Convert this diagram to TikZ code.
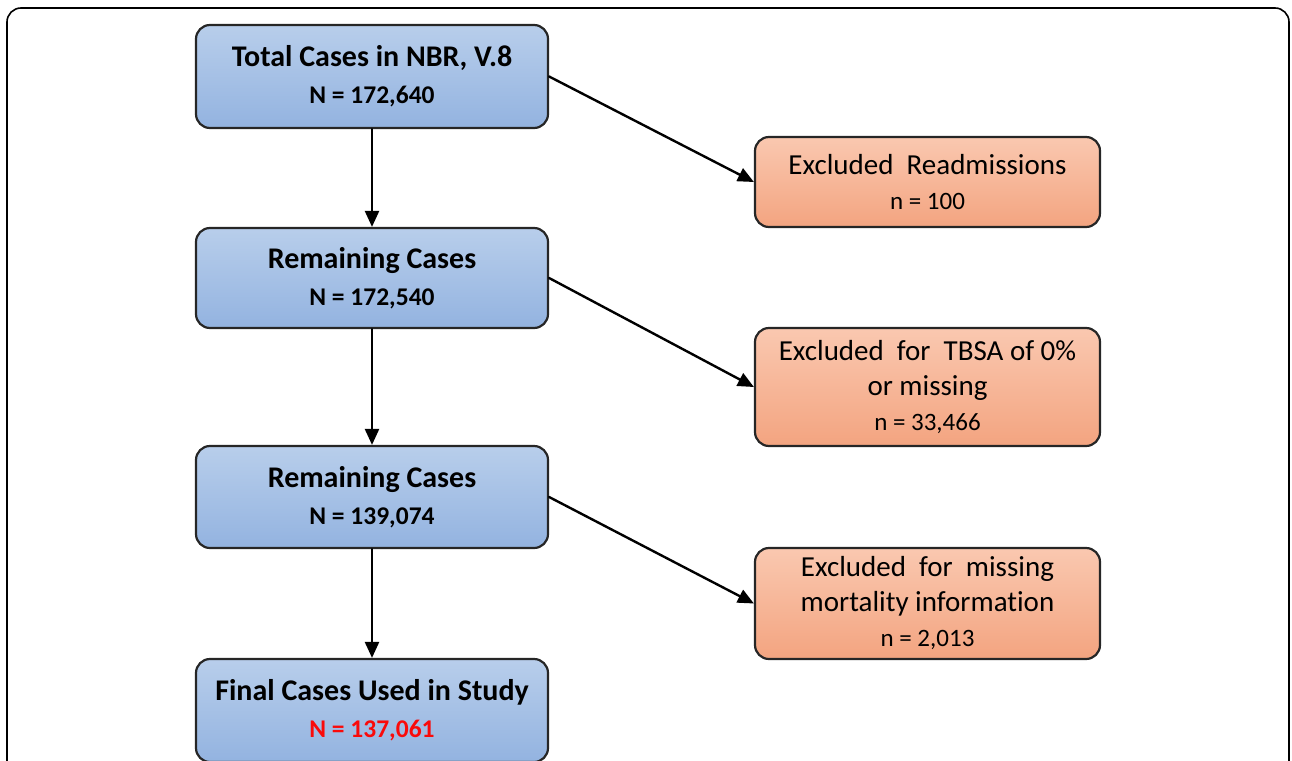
\documentclass[tikz,border=0pt]{standalone}
\usepackage{fontspec}
\setmainfont{Carlito}[Ligatures=CommonOff]
\usepackage{tikz}
\usetikzlibrary{arrows.meta, positioning, shapes, calc}
\definecolor{CaseBlueTop}{RGB}{184,206,235}
\definecolor{CaseBlueBot}{RGB}{147,179,224}
\definecolor{ExclOrangeTop}{RGB}{250,200,176}
\definecolor{ExclOrangeBot}{RGB}{243,164,128}
\definecolor{FinalRed}{RGB}{250,10,10}
\newcommand{\bigline}[1]{{\fontsize{29}{36}\selectfont #1}}
\newcommand{\boldline}[1]{{\fontsize{30}{37}\selectfont #1}}
\tikzset{>={Triangle[length=16pt, width=14pt]},
    casebox/.style={draw=black!85, line width=2.2pt, rounded corners=14pt, top color=CaseBlueTop, bottom color=CaseBlueBot, minimum width=352pt, align=center, font=\fontsize{25.5}{37}\selectfont\bfseries},
    exclbox/.style={draw=black!85, line width=2.2pt, rounded corners=14pt, top color=ExclOrangeTop, bottom color=ExclOrangeBot, minimum width=345pt, align=center, font=\fontsize{25}{35}\selectfont},
    flow/.style={->, line width=2.4pt, line cap=round, line join=round}}

\begin{document}
\begin{tikzpicture}[x=1pt, y=-1pt]
    \useasboundingbox (0,0) rectangle (1292,760);
    \clip (0,0) rectangle (1292,760);
    % outer frame
    \draw [line width=1.6pt, rounded corners=14pt] (7,8) rectangle (1289,820);

    % main column
    \node [casebox, minimum height=103pt] (total) at (372,76.5) {\boldline{Total Cases in NBR, V.8}\\N = 172,640};
    \node [casebox, minimum height=100pt] (remain1) at (372,278) {\boldline{Remaining Cases}\\N = 172,540};
    \node [casebox, minimum height=102pt] (remain2) at (372,497) {\boldline{Remaining Cases}\\N = 139,074};
    \node [casebox, minimum height=103pt] (final) at (372,710.5) {\boldline{Final Cases Used in Study}\\\textcolor{FinalRed}{N = 137,061}};

    % exclusions
    \node [exclbox, minimum height=90pt] (readm) at (927.5,182) {\bigline{Excluded\ \ Readmissions}\\n = 100};
    \node [exclbox, minimum height=118pt] (tbsa) at (927.5,387) {\bigline{Excluded\ \ for\ \ TBSA of 0\%}\\\bigline{or missing}\\n = 33,466};
    \node [exclbox, minimum height=111pt] (mort) at (927.5,603.5) {\bigline{Excluded\ \ for\ \ missing}\\\bigline{mortality information}\\n = 2,013};

    \draw [flow] (total) -- (remain1);
    \draw [flow] (remain1) -- (remain2);
    \draw [flow] (remain2) -- (final);
    \draw [flow] (total.east) -- (readm.west);
    \draw [flow] (remain1.east) -- (tbsa.west);
    \draw [flow] (remain2.east) -- (mort.west);
\end{tikzpicture}
\end{document}
